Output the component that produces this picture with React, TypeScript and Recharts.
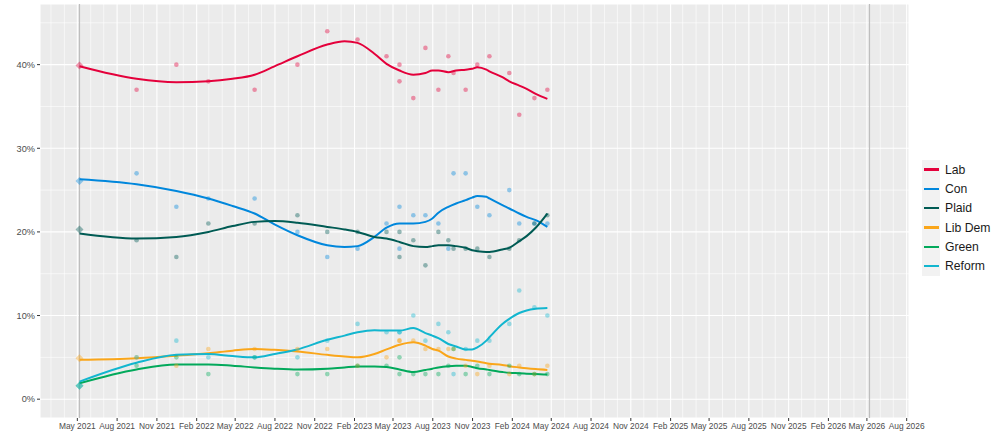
import { ComposedChart, Line, Scatter, XAxis, YAxis, CartesianGrid, ReferenceLine } from "recharts"

const parties = ["Lab", "Con", "Plaid", "Lib Dem", "Green", "Reform"]

// Senedd elections
const electionDate = "2021-05-06"
const nextElectionDate = "2026-05-07"
const electionResult = [39.9, 26.1, 20.3, 4.9, 1.6, 1.6]

// individual polls
const pollDates = [
  "2021-09-15", "2021-12-16", "2022-02-28", "2022-06-15", "2022-09-22", "2022-11-30",
  "2023-02-08", "2023-04-16", "2023-05-16", "2023-05-16", "2023-06-17", "2023-07-15",
  "2023-08-14", "2023-09-06", "2023-09-18", "2023-10-16", "2023-11-12", "2023-12-10",
  "2024-01-25", "2024-02-17", "2024-03-23", "2024-04-22",
]
const labPolls = [37, 40, 38, 37, 40, 44, 43, 41, 40, 38, 36, 42, 37, 41, 39, 37, 40, 41, 39, 34, 36, 37]
const conPolls = [27, 23, 24, 24, 20, 17, 18, 21, 23, 18, 22, 22, 21, 18, 27, 27, 23, 22, 25, 21, 21, 21]
const plaidPolls = [19, 17, 21, 21, 22, 20, 20, 20, 20, 17, 19, 16, 20, 19, 18, 18, 18, 17, 18, 19, 21, 22]
const ldPolls = [5, 4, 6, 6, 6, 6, 4, 5, 7, 7, 7, 6, 6, 6, 6, 4, 3, 4, 3, 4, 3, 4]
const greenPolls = [4, 5, 3, 5, 3, 3, 4, 4, 3, 5, 3, 3, 3, 4, 6, 3, 4, 3, 4, 3, 3, 3]
const reformPolls = [5, 7, 5, 5, 5, 7, 9, 8, 8, 8, 10, 7, 9, 8, 3, 6, 7, 7, 9, 13, 11, 10]

// smoothed trend
const trendDates = [
  "2021-05-06", "2021-09-15", "2021-12-16", "2022-02-28", "2022-04-25", "2022-06-15",
  "2022-07-31", "2022-09-22", "2022-11-30", "2023-01-09", "2023-02-08", "2023-03-19",
  "2023-04-16", "2023-05-16", "2023-06-17", "2023-07-15", "2023-07-31", "2023-08-14",
  "2023-09-06", "2023-09-24", "2023-10-16", "2023-10-31", "2023-11-12", "2023-12-03",
  "2023-12-10", "2024-01-09", "2024-01-25", "2024-02-17", "2024-03-05", "2024-03-26",
  "2024-04-22",
]
const labTrend = [39.8, 38.3, 37.9, 38.0, 38.3, 38.8, 39.8, 41.0, 42.4, 42.8, 42.6, 41.3, 40.1, 39.3, 38.8, 39.0, 39.3, 39.3, 39.1, 39.3, 39.4, 39.5, 39.7, 39.4, 39.2, 38.5, 38.0, 37.5, 37.1, 36.5, 35.9]
const conTrend = [26.3, 25.7, 24.9, 24.0, 23.1, 22.2, 20.9, 19.6, 18.4, 18.2, 18.3, 19.4, 20.5, 21.0, 21.0, 21.2, 21.6, 22.3, 23.0, 23.4, 23.8, 24.1, 24.3, 24.2, 24.0, 23.2, 22.8, 22.2, 21.8, 21.4, 20.6]
const plaidTrend = [19.8, 19.2, 19.4, 20.0, 20.7, 21.2, 21.3, 21.1, 20.6, 20.3, 20.0, 19.4, 19.2, 18.8, 18.3, 18.2, 18.3, 18.4, 18.4, 18.3, 18.1, 17.8, 17.7, 17.6, 17.6, 17.9, 18.1, 18.9, 19.5, 20.5, 22.2]
const ldTrend = [4.7, 4.9, 5.2, 5.5, 5.8, 6.0, 5.9, 5.7, 5.3, 5.1, 5.0, 5.4, 5.95, 6.5, 6.8, 6.4, 6.0, 5.8, 5.1, 4.85, 4.7, 4.6, 4.5, 4.3, 4.25, 4.1, 3.95, 3.8, 3.7, 3.6, 3.5]
const greenTrend = [1.9, 3.55, 4.15, 4.15, 4.0, 3.8, 3.65, 3.55, 3.65, 3.8, 3.9, 3.9, 3.85, 3.55, 3.25, 3.5, 3.65, 3.8, 3.95, 4.0, 4.0, 3.85, 3.7, 3.55, 3.5, 3.25, 3.15, 3.1, 3.05, 3.0, 2.95]
const reformTrend = [2.1, 4.35, 5.3, 5.4, 5.15, 5.0, 5.4, 5.95, 7.1, 7.6, 8.0, 8.25, 8.2, 8.2, 8.5, 7.9, 7.6, 7.3, 6.6, 6.3, 5.95, 5.95, 6.2, 7.0, 7.4, 9.0, 9.6, 10.3, 10.6, 10.8, 10.9]

const xTicks = [
  "2021-05-01", "2021-08-01", "2021-11-01", "2022-02-01", "2022-05-01", "2022-08-01",
  "2022-11-01", "2023-02-01", "2023-05-01", "2023-08-01", "2023-11-01", "2024-02-01",
  "2024-05-01", "2024-08-01", "2024-11-01", "2025-02-01", "2025-05-01", "2025-08-01",
  "2025-11-01", "2026-02-01", "2026-05-01", "2026-08-01",
]
const yTicks = [0, 10, 20, 30, 40]
const yMinor = [5, 15, 25, 35, 45]

const pollSeries = [labPolls, conPolls, plaidPolls, ldPolls, greenPolls, reformPolls]
const trendSeries = [labTrend, conTrend, plaidTrend, ldTrend, greenTrend, reformTrend]

const colors = ["#E4003B", "#0087DC", "#005B54", "#FAA61A", "#02A95B", "#12B6CF"]
const MONTHS = ["Jan", "Feb", "Mar", "Apr", "May", "Jun", "Jul", "Aug", "Sep", "Oct", "Nov", "Dec"]
const FONT = "'Liberation Sans', Arial, sans-serif"

const toT = (s: string) => Date.parse(s)

const t0 = toT(electionDate)
const t1 = toT(nextElectionDate)
const pad = (t1 - t0) * 0.05
const xDomain = [t0 - pad, t1 + pad]

// monthly minor grid
const minorX: number[] = []
for (let y = 2021; y <= 2026; y++) {
  for (let m = 0; m < 12; m++) {
    const t = Date.UTC(y, m, 1)
    if (t > xDomain[0] && t < xDomain[1] && m % 3 !== 1) minorX.push(t)
  }
}

const fmtDate = (t: number) => {
  const d = new Date(t)
  return `${MONTHS[d.getUTCMonth()]} ${d.getUTCFullYear()}`
}

function dot(color: string) {
  return (p: any) => <circle cx={p.cx} cy={p.cy} r={2.3} fill={color} fillOpacity={0.4} />
}

function diamond(color: string) {
  return (p: any) => {
    const s = 4
    return (
      <path
        d={`M${p.cx},${p.cy - s}L${p.cx + s},${p.cy}L${p.cx},${p.cy + s}L${p.cx - s},${p.cy}Z`}
        fill={color}
        fillOpacity={0.4}
      />
    )
  }
}

function PollLegend() {
  return (
    <div style={{ position: "absolute", left: 922, top: 160, fontFamily: FONT, fontSize: 12.2, color: "#1a1a1a" }}>
      {parties.map((p, i) => (
        <div key={p} style={{ display: "flex", alignItems: "center", height: 19.3 }}>
          <div style={{ width: 18, height: 19.3, background: "#F2F2F2", display: "flex", alignItems: "center", justifyContent: "center" }}>
            <div style={{ width: 15, height: 2.5, background: colors[i] }} />
          </div>
          <span style={{ marginLeft: 5 }}>{p}</span>
        </div>
      ))}
    </div>
  )
}

export default function App() {
  return (
    <div style={{ position: "absolute", left: 0, top: 0, width: 1000, height: 445, background: "#fff" }}>
      <ComposedChart width={1000} height={445} margin={{ top: 4, right: 91, bottom: 0, left: 0 }}>
        <CartesianGrid fill="#EBEBEB" stroke="#FFFFFF" strokeWidth={1.1} />
        <XAxis
          type="number"
          dataKey="t"
          domain={xDomain}
          allowDataOverflow
          ticks={xTicks.map(toT)}
          interval={0}
          tickFormatter={fmtDate}
          axisLine={false}
          tickLine={{ stroke: "#333333" }}
          tickSize={3}
          tickMargin={2}
          height={27}
          tick={{ fill: "#4D4D4D", fontSize: 8.4, fontFamily: FONT }}
        />
        <YAxis
          type="number"
          dataKey="v"
          domain={[-2.25, 47.25]}
          allowDataOverflow
          ticks={yTicks}
          interval={0}
          tickFormatter={(v: number) => `${v}%`}
          axisLine={false}
          tickLine={{ stroke: "#333333" }}
          tickSize={3}
          tickMargin={2}
          width={40}
          tick={{ fill: "#4D4D4D", fontSize: 9.2, fontFamily: FONT }}
        />
        {minorX.map((t) => (
          <ReferenceLine key={`mx${t}`} x={t} stroke="#FFFFFF" strokeWidth={0.6} />
        ))}
        {yMinor.map((v) => (
          <ReferenceLine key={`my${v}`} y={v} stroke="#FFFFFF" strokeWidth={0.6} />
        ))}
        <ReferenceLine x={toT(electionDate)} stroke="#BEBEBE" strokeWidth={1.2} />
        <ReferenceLine x={toT(nextElectionDate)} stroke="#BEBEBE" strokeWidth={1.2} />
        {parties.map((p, i) => (
          <Scatter
            key={`poll-${p}`}
            data={pollDates.map((d, j) => ({ t: toT(d), v: pollSeries[i][j] }))}
            shape={dot(colors[i])}
            isAnimationActive={false}
          />
        ))}
        {parties.map((p, i) => (
          <Scatter
            key={`elec-${p}`}
            data={[{ t: toT(electionDate), v: electionResult[i] }]}
            shape={diamond(colors[i])}
            isAnimationActive={false}
          />
        ))}
        {parties.map((p, i) => (
          <Line
            key={`trend-${p}`}
            data={trendDates.map((d, j) => ({ t: toT(d), v: trendSeries[i][j] }))}
            dataKey="v"
            type="monotone"
            stroke={colors[i]}
            strokeWidth={2}
            dot={false}
            activeDot={false}
            isAnimationActive={false}
          />
        ))}
      </ComposedChart>
      <PollLegend />
    </div>
  )
}
